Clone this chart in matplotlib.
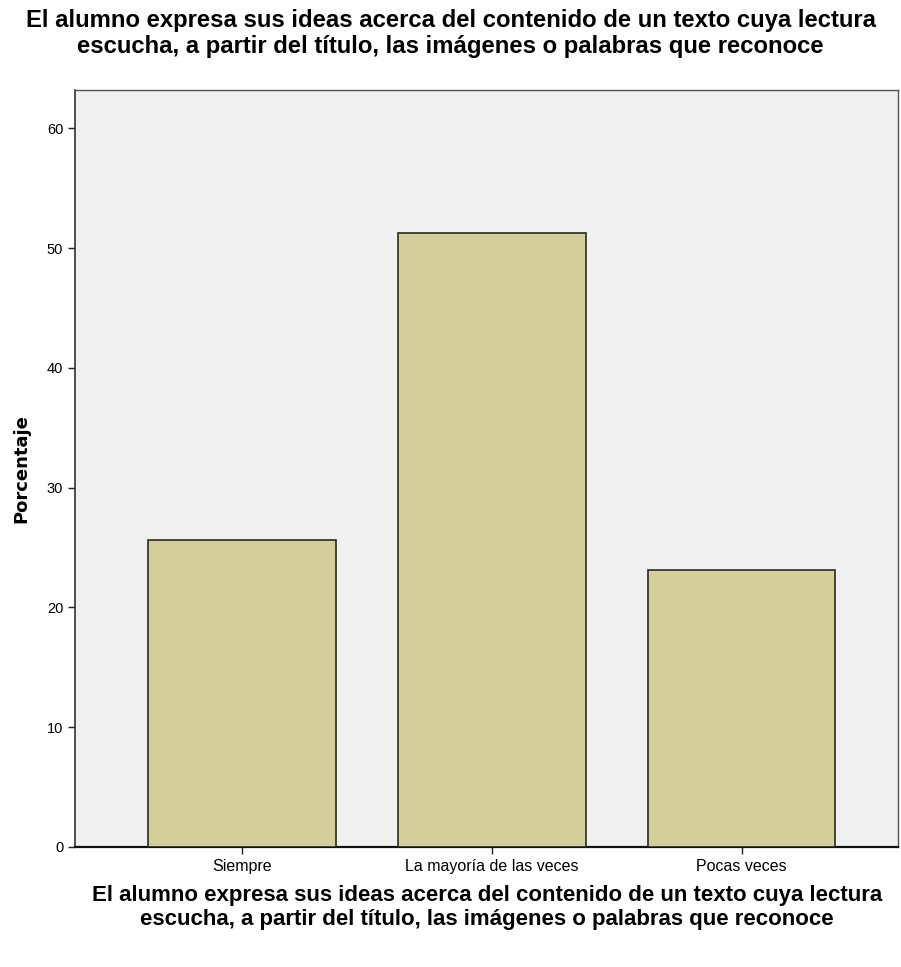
import matplotlib.pyplot as plt

# --- Data ---
categories = ["Siempre", "La mayoría de las veces", "Pocas veces"]
percentages = [25.6, 51.3, 23.1]
y_ticks = [0, 10, 20, 30, 40, 50, 60]

title = ("El alumno expresa sus ideas acerca del contenido de un texto cuya lectura\n"
         "escucha, a partir del título, las imágenes o palabras que reconoce")

narrow = ['Liberation Sans Narrow', 'Liberation Sans', 'DejaVu Sans']

fig = plt.figure(figsize=(9.01, 9.67), dpi=100)
ax = fig.add_axes([0.0832, 0.1241, 0.914, 0.7828])
ax.set_facecolor('#F0F0F0')

x = list(range(len(categories)))
ax.bar(x, percentages, width=0.75, color='#D3CF9B', edgecolor='#2A2A1E', linewidth=1.2, zorder=3)

ax.set_xlim(-0.668, 2.627)
ax.set_ylim(0, 63.2)
ax.set_yticks(y_ticks)
ax.set_yticklabels([str(v) for v in y_ticks], family=narrow, fontsize=10.5)
ax.set_xticks(x)
ax.set_xticklabels(categories, family=narrow, fontsize=11.5)
ax.tick_params(axis='both', direction='out', length=5, width=1, color='#222222')

for side in ['top', 'right']:
    ax.spines[side].set_color('#555555')
    ax.spines[side].set_linewidth(1)
ax.spines['left'].set_color('#333333')
ax.spines['left'].set_linewidth(1.2)
ax.spines['bottom'].set_color('#111111')
ax.spines['bottom'].set_linewidth(1.6)

fig.text(0.5, 0.991, title, ha='center', va='top', family=narrow,
         fontsize=17.2, fontweight='bold', linespacing=1.2)
ax.set_xlabel(title, family=narrow, fontsize=16, fontweight='bold',
              labelpad=8, linespacing=1.2)
ax.set_ylabel("Porcentaje", family=['DejaVu Sans'], fontsize=13,
              fontweight='bold', labelpad=12)

fig.savefig("out.png", dpi=100)
